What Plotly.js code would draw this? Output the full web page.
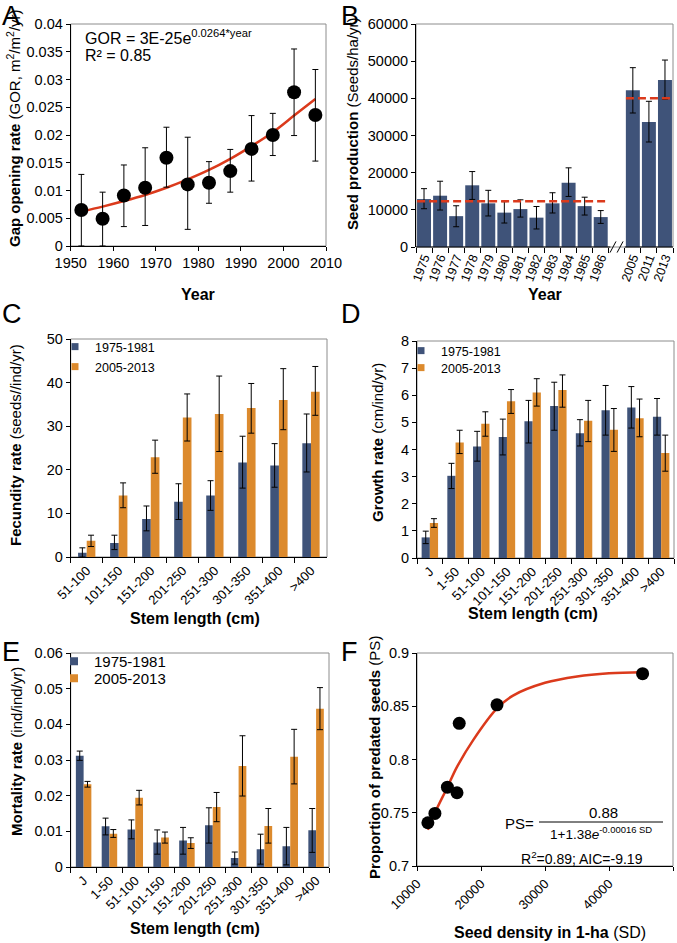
<!DOCTYPE html>
<html><head><meta charset="utf-8">
<script src="https://cdn.plot.ly/plotly-3.0.1.min.js"></script>
<style>html,body{margin:0;padding:0;background:#fff}#chart{width:677px;height:943px}</style>
</head><body><div id="chart"></div>
<script>
// ---------- Panel A: gap opening rate ----------
const gorYears  = [1952.5,1957.5,1962.5,1967.5,1972.5,1977.5,1982.5,1987.5,1992.5,1997.5,2002.5,2007.5];
const gorValues = [0.0065,0.0049,0.0091,0.0105,0.0159,0.0111,0.0114,0.0135,0.0175,0.0200,0.0277,0.0236];
const gorHigh   = [0.0129,0.0097,0.0146,0.0177,0.0214,0.0196,0.0152,0.0174,0.0235,0.0239,0.0355,0.0318];
const gorLow    = [0.0000,0.0000,0.0035,0.0037,0.0106,0.0030,0.0077,0.0097,0.0117,0.0163,0.0199,0.0153];
const gorFitYears  = [1952.5,1957.5,1962.5,1967.5,1972.5,1977.5,1982.5,1987.5,1992.5,1997.5,2002.5,2007.5];
const gorFitValues = [0.0062,0.0071,0.0081,0.0092,0.0105,0.0120,0.0137,0.0157,0.0180,0.0205,0.0235,0.0265];

// ---------- Panel B: seed production ----------
const seedYearsEarly = ['1975','1976','1977','1978','1979','1980','1981','1982','1983','1984','1985','1986'];
const seedEarly      = [12900,13800,8300,16600,11750,9250,10200,7900,11750,17300,11000,8050];
const seedEarlyHigh  = [15700,17700,11100,20300,15250,12200,12700,10900,14600,21300,13400,9800];
const seedEarlyLow   = [10300,9950,5450,12800,8350,6450,8050,4850,9150,13600,8600,6350];
const seedYearsLate  = ['2005','2011','2013'];
const seedLate       = [42150,33650,44950];
const seedLateHigh   = [48250,39200,50300];
const seedLateLow    = [36050,28250,39750];
const seedMeanEarly  = 12300;
const seedMeanLate   = 40000;

// ---------- Panel C: fecundity ----------
const fecClasses   = ['51-100','101-150','151-200','201-250','251-300','301-350','351-400','>400'];
const fecEarly     = [1.0,3.2,8.7,12.7,14.1,21.7,21.0,26.1];
const fecEarlyHigh = [2.1,5.0,11.7,16.8,17.5,27.7,26.0,32.8];
const fecEarlyLow  = [0.0,1.7,6.0,8.6,10.7,15.8,16.0,19.5];
const fecLate      = [3.7,14.1,22.9,32.0,32.8,34.2,36.0,37.9];
const fecLateHigh  = [5.0,17.0,26.8,37.4,41.5,39.8,43.2,43.7];
const fecLateLow   = [2.4,11.3,19.2,26.6,24.2,28.4,29.2,32.5];

// ---------- Panel D: growth ----------
const stemClasses  = ['J','1-50','51-100','101-150','151-200','201-250','251-300','301-350','351-400','>400'];
const grEarly      = [0.76,3.03,4.11,4.46,5.04,5.60,4.60,5.45,5.55,5.21];
const grEarlyHigh  = [0.99,3.49,4.67,5.12,5.81,6.48,5.10,6.36,6.32,5.88];
const grEarlyLow   = [0.53,2.56,3.57,3.80,4.24,4.71,4.13,4.53,4.79,4.53];
const grLate       = [1.29,4.26,4.95,5.78,6.10,6.19,5.06,4.73,5.15,3.87];
const grLateHigh   = [1.45,4.71,5.39,6.21,6.61,6.75,5.81,5.51,5.86,4.53];
const grLateLow    = [1.13,3.85,4.49,5.33,5.60,5.56,4.29,3.93,4.47,3.20];

// ---------- Panel E: mortality ----------
const moEarly      = [0.0312,0.0114,0.0105,0.0069,0.0074,0.0117,0.0025,0.0050,0.0058,0.0103];
const moEarlyHigh  = [0.0325,0.0137,0.0132,0.0104,0.0111,0.0166,0.0042,0.0092,0.0111,0.0164];
const moEarlyLow   = [0.0299,0.0090,0.0079,0.0036,0.0036,0.0067,0.0008,0.0008,0.0006,0.0041];
const moLate       = [0.0232,0.0093,0.0194,0.0083,0.0067,0.0168,0.0283,0.0115,0.0309,0.0444];
const moLateHigh   = [0.0240,0.0105,0.0215,0.0098,0.0082,0.0209,0.0368,0.0164,0.0386,0.0503];
const moLateLow    = [0.0224,0.0083,0.0174,0.0067,0.0052,0.0127,0.0199,0.0067,0.0233,0.0385];

// ---------- Panel F: seed predation ----------
const seedDensity   = [11700,12800,14750,16250,16600,22500,45250];
const predatedProp  = [0.7406,0.7494,0.7740,0.7688,0.8340,0.8513,0.8806];
const psFitDensity  = [11700,12800,14750,16250,18750,22500,25000,30000,35000,40000,45250];
const psFitValues   = [0.734,0.750,0.774,0.793,0.818,0.848,0.860,0.872,0.878,0.881,0.882];

const periodLabels = ['1975-1981','2005-2013'];

// ---------- styling ----------
const W = 677, H = 943;
const FONT = 'Arial, "Liberation Sans", sans-serif';
const blue = '#3f5379', orange = '#dc8a2d', red = '#db3a1c', frameGray = '#8c8c8c';
const dx = (a,b) => [a/W, b/W];
const dy = (t,b) => [1-b/H, 1-t/H];
const px = v => v/W, py = v => 1 - v/H;
const tf = (s) => ({size:s, color:'#000', family:FONT});

function err(v, hi, lo, w){
  return {type:'data', symmetric:false,
    array: hi.map((h,i)=>h-v[i]), arrayminus: lo.map((l,i)=>v[i]-l),
    color:'#000', thickness:1, width:w};
}

const earlyPos = seedYearsEarly.map((_,i)=>i);
const latePos  = seedYearsLate.map((_,i)=>earlyPos.length+1+i);
const allPos   = earlyPos.concat(latePos);
const bHalf = 0.43;

const traces = [];
// A
traces.push({x:gorFitYears, y:gorFitValues, type:'scatter', mode:'lines', line:{color:red,width:2.5,shape:'spline'},
  xaxis:'x', yaxis:'y', showlegend:false, hoverinfo:'skip'});
traces.push({x:gorYears, y:gorValues, type:'scatter', mode:'markers', marker:{size:14,color:'#000'},
  error_y:err(gorValues,gorHigh,gorLow,3), xaxis:'x', yaxis:'y', showlegend:false});
// B
traces.push({x:earlyPos, y:seedEarly, type:'bar', width:0.87, marker:{color:blue,line:{width:0}},
  error_y:err(seedEarly,seedEarlyHigh,seedEarlyLow,3), xaxis:'x2', yaxis:'y2', showlegend:false});
traces.push({x:latePos, y:seedLate, type:'bar', width:0.87, marker:{color:blue,line:{width:0}},
  error_y:err(seedLate,seedLateHigh,seedLateLow,3), xaxis:'x2', yaxis:'y2', showlegend:false});
traces.push({x:[earlyPos[0]-bHalf, earlyPos[earlyPos.length-1]+bHalf], y:[seedMeanEarly,seedMeanEarly], type:'scatter', mode:'lines',
  line:{color:red,width:2.5,dash:'8px,4px'}, xaxis:'x2', yaxis:'y2', showlegend:false});
traces.push({x:[latePos[0]-bHalf, latePos[latePos.length-1]+bHalf], y:[seedMeanLate,seedMeanLate], type:'scatter', mode:'lines',
  line:{color:red,width:2.5,dash:'8px,4px'}, xaxis:'x2', yaxis:'y2', showlegend:false});
// C, D, E grouped bars
function pair(cats, e, eh, el, l, lh, ll, w, xa, ya){
  traces.push({x:cats, y:e, type:'bar', width:w, offset:-w, marker:{color:blue,line:{width:0}},
    error_y:err(e,eh,el,3), xaxis:xa, yaxis:ya, showlegend:false});
  traces.push({x:cats, y:l, type:'bar', width:w, offset:0, marker:{color:orange,line:{width:0}},
    error_y:err(l,lh,ll,3), xaxis:xa, yaxis:ya, showlegend:false});
}
pair(fecClasses, fecEarly, fecEarlyHigh, fecEarlyLow, fecLate, fecLateHigh, fecLateLow, 0.27, 'x3','y3');
pair(stemClasses, grEarly, grEarlyHigh, grEarlyLow, grLate, grLateHigh, grLateLow, 0.32, 'x4','y4');
pair(stemClasses, moEarly, moEarlyHigh, moEarlyLow, moLate, moLateHigh, moLateLow, 0.30, 'x5','y5');

// legend entries: one legend per entry so row positions can follow the reference
const legendDefs = [
  {id:'legend',  xa:'x3', ya:'y3', color:blue,   name:periodLabels[0], size:7, font:12.5, x:55,  top:332},
  {id:'legend2', xa:'x3', ya:'y3', color:orange, name:periodLabels[1], size:7, font:12.5, x:55,  top:352},
  {id:'legend3', xa:'x4', ya:'y4', color:blue,   name:periodLabels[0], size:7, font:12.5, x:401, top:336},
  {id:'legend4', xa:'x4', ya:'y4', color:orange, name:periodLabels[1], size:7, font:12.5, x:401, top:353},
  {id:'legend5', xa:'x5', ya:'y5', color:blue,   name:periodLabels[0], size:8, font:15,   x:54,  top:645},
  {id:'legend6', xa:'x5', ya:'y5', color:orange, name:periodLabels[1], size:8, font:15,   x:54,  top:662}
];
legendDefs.forEach(d => traces.push({x:[null], y:[null], type:'scatter', mode:'markers',
  marker:{symbol:'square', size:d.size, color:d.color}, name:d.name, legend:d.id,
  xaxis:d.xa, yaxis:d.ya, showlegend:true, hoverinfo:'skip'}));

// F
traces.push({x:psFitDensity, y:psFitValues, type:'scatter', mode:'lines', line:{color:red,width:2.5,shape:'spline'},
  xaxis:'x6', yaxis:'y6', showlegend:false, hoverinfo:'skip'});
traces.push({x:seedDensity, y:predatedProp, type:'scatter', mode:'markers', marker:{size:13,color:'#000'},
  xaxis:'x6', yaxis:'y6', showlegend:false});

const ax = (o) => Object.assign({showline:true, linecolor:'#000', linewidth:1, ticks:'outside', ticklen:4,
  tickcolor:'#000', tickwidth:1, tickfont:tf(14.5), showgrid:false, zeroline:false, fixedrange:true}, o);

const boundaries = earlyPos.map(p=>p-0.5).concat([earlyPos[earlyPos.length-1]+0.5])
  .concat(latePos.map(p=>p-0.5)).concat([latePos[latePos.length-1]+0.5]);

const layout = {
  width:W, height:H, margin:{l:0,r:0,t:0,b:0}, paper_bgcolor:'#fff', plot_bgcolor:'#fff',
  font:{family:FONT, color:'#000'}, barmode:'overlay',
  xaxis: ax({domain:dx(70.7,326), range:[1950,2010], dtick:10, anchor:'y'}),
  yaxis: ax({domain:dy(24,246), range:[0,0.04], dtick:0.005, anchor:'x'}),
  xaxis2: ax({domain:dx(416,673), range:[-0.5,15.5], anchor:'y2', showline:false, tickmode:'array',
    tickvals:allPos, ticktext:seedYearsEarly.concat(seedYearsLate), ticks:'', tickangle:-70, tickfont:tf(12.5),
    minor:{tickmode:'array', tickvals:boundaries, ticks:'outside', ticklen:5, tickcolor:'#000', showgrid:false}}),
  yaxis2: ax({domain:dy(24,247), range:[0,60000], dtick:10000, tickformat:'d', anchor:'x2'}),
  xaxis3: ax({domain:dx(70.7,327), type:'category', range:[-0.5,7.5], tickson:'boundaries', tickangle:-45, ticklen:5, anchor:'y3', tickfont:tf(13)}),
  yaxis3: ax({domain:dy(339,557), range:[0,50], dtick:10, anchor:'x3'}),
  xaxis4: ax({domain:dx(417,674), type:'category', range:[-0.5,9.5], tickson:'boundaries', tickangle:-45, ticklen:5, anchor:'y4', tickfont:tf(13)}),
  yaxis4: ax({domain:dy(341,558), range:[0,8], dtick:1, anchor:'x4'}),
  xaxis5: ax({domain:dx(70.7,329), type:'category', range:[-0.5,9.5], tickson:'boundaries', tickangle:-45, ticklen:5, anchor:'y5', tickfont:tf(13)}),
  yaxis5: ax({domain:dy(653,867), range:[0,0.06], dtick:0.01, anchor:'x5'}),
  xaxis6: ax({domain:dx(417,673), range:[10000,50000], dtick:10000, tickformat:'d', tickangle:-45, anchor:'y6', tickfont:tf(13)}),
  yaxis6: ax({domain:dy(653,866), range:[0.7,0.9], dtick:0.05, anchor:'x6'}),
  shapes: [], annotations: []
};
legendDefs.forEach(d => { layout[d.id] = {x:px(d.x), y:py(d.top), xanchor:'left', yanchor:'top',
  bgcolor:'rgba(0,0,0,0)', font:tf(d.font), itemwidth:30}; });

// frames (gray top/right)
[['x','y'],['x2','y2'],['x3','y3'],['x4','y4'],['x5','y5'],['x6','y6']].forEach(([a,b])=>{
  layout.shapes.push({type:'rect', xref:a+' domain', yref:b+' domain', x0:0,x1:1,y0:0,y1:1, line:{color:frameGray,width:1}, layer:'below'});
});
// B broken x axis line and break marks
layout.shapes.push({type:'line', xref:'x2', yref:'y2 domain', x0:-0.5, x1:earlyPos[earlyPos.length-1]+0.6, y0:0, y1:0, line:{color:'#000',width:1}});
layout.shapes.push({type:'line', xref:'x2', yref:'y2 domain', x0:latePos[0]-0.5, x1:15.5, y0:0, y1:0, line:{color:'#000',width:1}});
layout.shapes.push({type:'line', xref:'x2', yref:'y2 domain', x0:11.58, x1:11.95, y0:-0.025, y1:0.025, line:{color:'#000',width:1}});
layout.shapes.push({type:'line', xref:'x2', yref:'y2 domain', x0:12.02, x1:12.39, y0:-0.025, y1:0.025, line:{color:'#000',width:1}});
// F fraction bar
layout.shapes.push({type:'line', xref:'paper', yref:'paper', x0:px(539), x1:px(663), y0:py(822), y1:py(822), line:{color:'#000',width:1}});

const A = layout.annotations;
function txt(t, x, y, size, opts){ A.push(Object.assign({text:t, x:px(x), y:py(y), xref:'paper', yref:'paper', showarrow:false,
  font:tf(size), xanchor:'center', yanchor:'middle'}, opts||{})); }
// panel letters
txt('A', 0, 16, 27, {xanchor:'left'});
txt('B', 339, 16, 27, {xanchor:'left'});
txt('C', 0, 314, 27, {xanchor:'left'});
txt('D', 339, 314, 27, {xanchor:'left'});
txt('E', 0, 652, 27, {xanchor:'left'});
txt('F', 339, 652, 27, {xanchor:'left'});
// x titles
txt('<b>Year</b>', 198, 294, 16);
txt('<b>Year</b>', 545, 294, 16);
txt('<b>Stem length (cm)</b>', 195, 618, 16);
txt('<b>Stem length (cm)</b>', 533, 613, 16);
txt('<b>Stem length (cm)</b>', 195, 928, 16);
txt('<b>Seed density in 1-ha</b> (SD)', 550, 932, 16);
// y titles
const yt = (t,x,y) => txt(t, x, y, 15, {textangle:-90});
yt('<b>Gap opening rate</b> (GOR, m<sup>2</sup>/m<sup>2</sup>/yr)', 14, 128);
yt('<b>Seed production</b> (Seeds/ha/yr)', 353, 124);
yt('<b>Fecundity rate</b> (seeds//ind/yr)', 15, 445);
yt('<b>Growth rate</b> (cm/ind/yr)', 377, 443);
yt('<b>Mortality rate</b> (ind/ind/yr)', 16, 752);
yt('<b>Proportion of predated seeds</b> (PS)', 374, 758);
// equations
txt('GOR = 3E-25e<sup>0.0264*year</sup>', 83, 37, 16, {xanchor:'left'});
txt('R² = 0.85', 83, 56, 16, {xanchor:'left'});
txt('PS=', 503, 823, 15, {xanchor:'left'});
txt('0.88', 603, 812, 15);
txt('1+1.38<i>e</i><sup>-0.00016 SD</sup>', 601, 833, 13.5);
txt('R<sup>2</sup>=0.89; AIC=-9.19', 582, 858, 14);

Plotly.newPlot('chart', traces, layout, {staticPlot:true, displayModeBar:false});
</script></body></html>
